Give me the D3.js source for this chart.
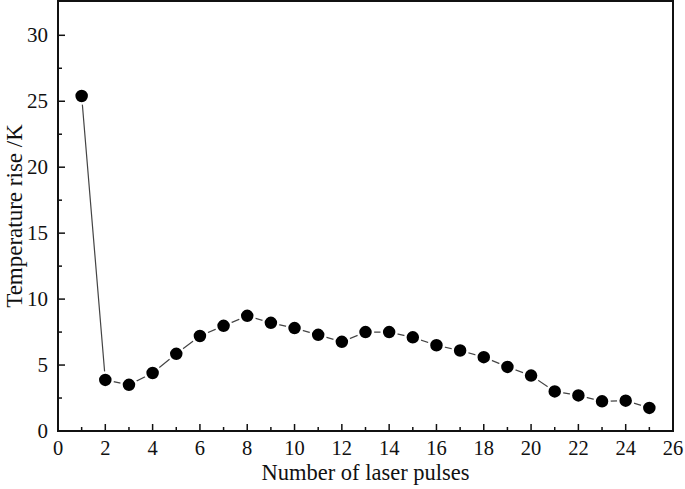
<!DOCTYPE html>
<html>
<head>
<meta charset="utf-8">
<script src="https://cdn.jsdelivr.net/npm/d3@7"></script>
<style>
  body { margin: 0; background: #fff; }
  text { font-family: "Liberation Serif", "Times New Roman", serif; fill: #111; }
</style>
</head>
<body>
<div id="chart"></div>
<script>
// data
var pulses = [1,2,3,4,5,6,7,8,9,10,11,12,13,14,15,16,17,18,19,20,21,22,23,24,25];
var tempRise = [25.4,3.87,3.5,4.4,5.85,7.2,7.97,8.73,8.2,7.8,7.29,6.76,7.5,7.5,7.1,6.5,6.1,5.6,4.86,4.2,3.0,2.7,2.25,2.3,1.75];
var xTicks = [0,2,4,6,8,10,12,14,16,18,20,22,24,26];
var yTicks = [0,5,10,15,20,25,30];

var width = 685, height = 489;
var margin = {left: 58, right: 12, top: 1, bottom: 58};

var svg = d3.select("#chart").append("svg")
    .attr("width", width)
    .attr("height", height);

var x = d3.scaleLinear().domain([0, 26]).range([margin.left, width - margin.right]);
var y = d3.scaleLinear().domain([0, 32.6]).range([height - margin.bottom, margin.top]);

var x0 = x.range()[0], x1 = x.range()[1];
var y0 = y.range()[0], y1 = y.range()[1];

// minor ticks
var xMinor = d3.range(1, 26, 2);
var yMinor = d3.range(2.5, 32.5, 5);

var tk = svg.append("g").attr("stroke", "#111").attr("stroke-width", 1.5);
tk.selectAll(".xt").data(xTicks.slice(1, -1)).enter().append("line")
    .attr("x1", function(d){ return x(d); }).attr("x2", function(d){ return x(d); })
    .attr("y1", y0).attr("y2", y0 - 7);
tk.selectAll(".xm").data(xMinor).enter().append("line")
    .attr("x1", function(d){ return x(d); }).attr("x2", function(d){ return x(d); })
    .attr("y1", y0).attr("y2", y0 - 4);
tk.selectAll(".yt").data(yTicks.slice(1)).enter().append("line")
    .attr("x1", x0).attr("x2", x0 + 7)
    .attr("y1", function(d){ return y(d); }).attr("y2", function(d){ return y(d); });
tk.selectAll(".ym").data(yMinor).enter().append("line")
    .attr("x1", x0).attr("x2", x0 + 4)
    .attr("y1", function(d){ return y(d); }).attr("y2", function(d){ return y(d); });

// frame
svg.append("rect")
    .attr("x", x0).attr("y", y1)
    .attr("width", x1 - x0).attr("height", y0 - y1)
    .attr("fill", "none").attr("stroke", "#111").attr("stroke-width", 2);

// tick labels
svg.selectAll(".xl").data(xTicks).enter().append("text")
    .attr("x", function(d){ return x(d); })
    .attr("y", y0 + 24)
    .attr("text-anchor", "middle")
    .attr("font-size", 20.5)
    .text(function(d){ return d; });
svg.selectAll(".yl").data(yTicks).enter().append("text")
    .attr("x", x0 - 10)
    .attr("y", function(d){ return y(d) + 7; })
    .attr("text-anchor", "end")
    .attr("font-size", 21)
    .text(function(d){ return d; });

// axis titles
svg.append("text")
    .attr("x", (x0 + x1) / 2)
    .attr("y", y0 + 49)
    .attr("text-anchor", "middle")
    .attr("font-size", 22.5)
    .text("Number of laser pulses");
svg.append("text")
    .attr("transform", "translate(" + 14 + "," + ((y0 + y1) / 2) + ") rotate(-90)")
    .attr("text-anchor", "middle")
    .attr("dy", "0.35em")
    .attr("font-size", 23)
    .text("Temperature rise /K");

// series
var pts = pulses.map(function(p, i){ return [p, tempRise[i]]; });
var line = d3.line()
    .x(function(d){ return x(d[0]); })
    .y(function(d){ return y(d[1]); });

svg.append("path")
    .datum(pts)
    .attr("d", line)
    .attr("fill", "none")
    .attr("stroke", "#444")
    .attr("stroke-width", 1.2);

svg.selectAll(".pt").data(pts).enter().append("circle")
    .attr("cx", function(d){ return x(d[0]); })
    .attr("cy", function(d){ return y(d[1]); })
    .attr("r", 7.5)
    .attr("fill", "#000")
    .attr("stroke", "#fff")
    .attr("stroke-width", 2.5);
</script>
</body>
</html>
